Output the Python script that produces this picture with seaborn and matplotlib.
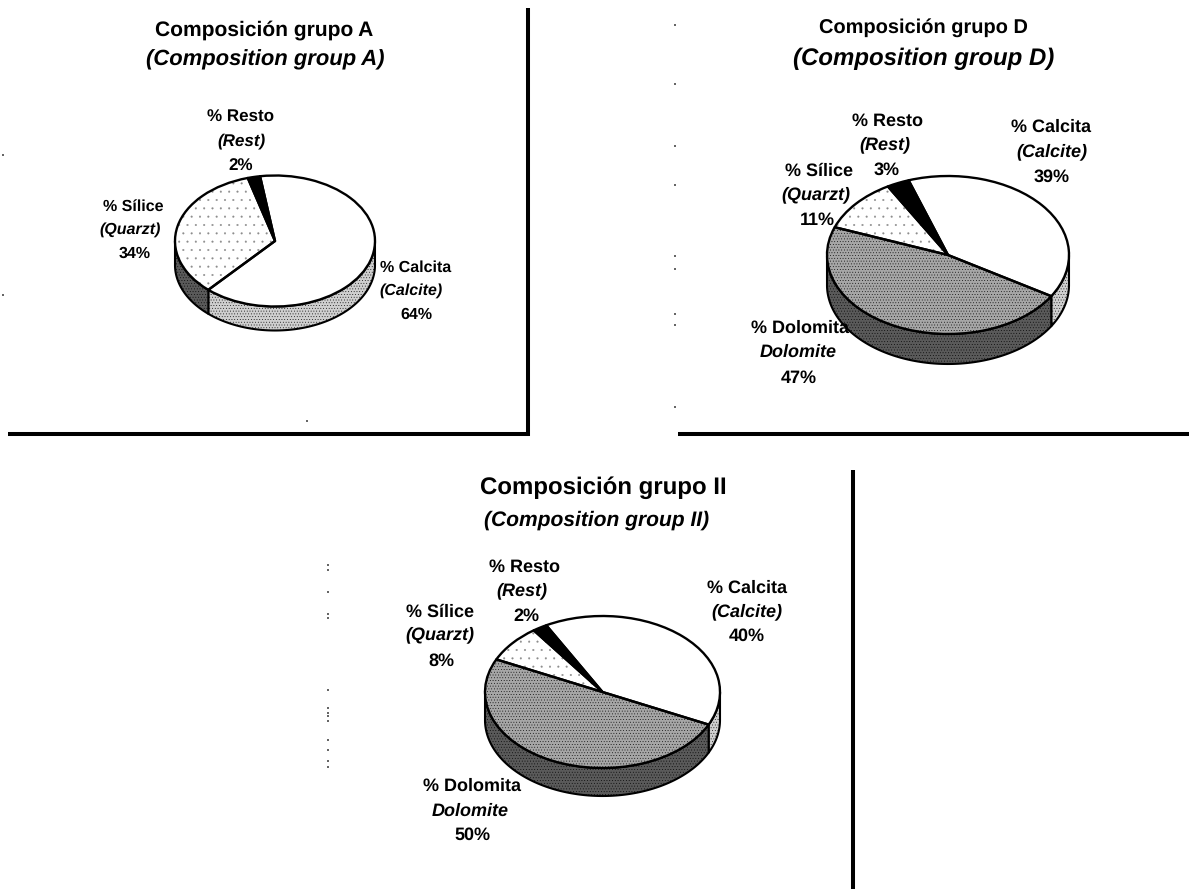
import numpy as np
import matplotlib
matplotlib.use("Agg")
import matplotlib.pyplot as plt
import seaborn as sns

W, H = 1189, 890

# --- data ---
names = ["Calcita", "Dolomita", "Silice", "Resto"]
values_a = [64, 0, 34, 2]
values_d = [39, 47, 11, 3]
values_ii = [40, 50, 8, 2]

titles_a = ["Composición grupo A", "(Composition group A)"]
titles_d = ["Composición grupo D", "(Composition group D)"]
titles_ii = ["Composición grupo II", "(Composition group II)"]

labels_es = ["% Calcita", "% Dolomita", "% Sílice", "% Resto"]
labels_en = ["(Calcite)", "Dolomite", "(Quarzt)", "(Rest)"]

# faint scan specks on the page (pixel positions)
speck_x = [3, 3, 307, 674.5, 674.5, 674.5, 674.5, 674.5, 674.5, 674.5, 674.5, 674.5,
           328, 328, 328, 328, 328, 328, 328, 328, 328, 328, 328, 328, 328, 328]
speck_y = [155, 295, 421, 25, 84, 146, 185, 256, 269, 314, 325, 407,
           565, 570, 592, 614, 618, 690, 708, 713, 716, 721, 740, 750, 761, 767]

# --- styling / layout ---
sns.set_theme(style="white")
plt.rcParams["font.family"] = ["Liberation Sans", "DejaVu Sans"]
plt.rcParams["hatch.linewidth"] = 0.25
plt.rcParams["text.hinting"] = "no_hinting"
plt.rcParams["text.hinting_factor"] = 1

top_face = ["#ffffff", "#a6a6a6", "#ffffff", "#000000"]
top_hatch = [None, "......", "..", None]
top_hatch_color = ["#000000", "#000000", "#8c8c8c", "#000000"]
side_face = ["#cfcfcf", "#5a5a5a", "#5a5a5a", "#000000"]
side_hatch = ["......", "......", "......", None]

fig = plt.figure(figsize=(W / 100, H / 100), dpi=100, facecolor="white")


def draw_pie(values, cx, cy, rx, ry, depth, start):
    """cx, cy: pixel centre of the top face, rx, ry: pixel radii, depth: pixel wall."""
    pad = 4
    ax = fig.add_axes([(cx - rx - pad) / W,
                       1 - (cy + ry + depth + pad) / H,
                       (2 * rx + 2 * pad) / W,
                       (2 * ry + depth + 2 * pad) / H])
    idx = [i for i, v in enumerate(values) if v > 0]
    vals = [values[i] for i in idx]
    d = depth / ry
    # top face: fill and stipple first, outline in a second pass
    fills, _ = ax.pie(vals, colors=[top_face[i] for i in idx], startangle=start,
                      counterclock=False, center=(0, 0), radius=1,
                      hatch=[top_hatch[i] for i in idx],
                      wedgeprops=dict(linewidth=0), frame=True)
    for w, i in zip(fills, idx):
        w.set_edgecolor(top_hatch_color[i])
        w.set_linewidth(0)
        w.set_zorder(5)
    outlines, _ = ax.pie(vals, colors=["none"] * len(vals), startangle=start,
                         counterclock=False, center=(0, 0), radius=1,
                         wedgeprops=dict(linewidth=1.7, edgecolor="black"), frame=True)
    for w in outlines:
        w.set_joinstyle("round")
        w.set_zorder(6)
    # front wall of each slice: the part of its arc on the lower half of the ellipse
    angle = start
    for v, i in zip(vals, idx):
        end = angle - 360 * v / sum(vals)
        th = np.deg2rad(np.linspace(angle, end, 200))
        th = th[np.sin(th) <= 0]
        if len(th) > 1:
            x, y = np.cos(th), np.sin(th)
            order = np.argsort(x)
            ax.fill_between(x[order], y[order], y[order] - d,
                            facecolor=side_face[i], edgecolor="black",
                            hatch=side_hatch[i], linewidth=1.5, zorder=2)
        angle = end
    ax.set_aspect("auto")
    ax.set_xlim(-1 - pad / rx, 1 + pad / rx)
    ax.set_ylim(-1 - d - pad / ry, 1 + pad / ry)
    ax.axis("off")


def label(x, y, s, size=11.5, style="normal"):
    fig.text(x / W, 1 - y / H, s, ha="center", va="center", fontsize=size,
             fontweight="bold", fontstyle=style, color="black")


def block(es, en, pct, ys, xs, size):
    label(xs[0], ys[0], es, size)
    label(xs[1], ys[1], en, size, "italic")
    label(xs[2], ys[2], pct, size)


draw_pie(values_a, 275, 241, 100, 65.5, 24, 98.6)
draw_pie(values_d, 948, 255, 121, 79, 30, 109)
draw_pie(values_ii, 602.5, 692, 117.5, 76, 28, 118.6)

# titles
label(264, 30, titles_a[0], size=15)
label(265, 60, titles_a[1], size=15.8, style="italic")
label(923, 28, titles_d[0], size=14.4)
label(924, 59, titles_d[1], size=17.5, style="italic")
label(603, 488, titles_ii[0], size=17.3)
label(597, 520, titles_ii[1], size=15.4, style="italic")

# group A labels
block(labels_es[3], labels_en[3], f"{values_a[3]}%", (117, 141, 166), (241, 241, 241), 12.4)
block(labels_es[2], labels_en[2], f"{values_a[2]}%", (207, 230, 254), (133, 130, 135), 11.5)
block(labels_es[0], labels_en[0], f"{values_a[0]}%", (268, 291, 315), (416, 411, 416), 11.5)
# group D labels
block(labels_es[3], labels_en[3], f"{values_d[3]}%", (121, 145, 170), (888, 885, 887), 13)
block(labels_es[2], labels_en[2], f"{values_d[2]}%", (171, 195, 220), (819, 816, 817), 13)
block(labels_es[0], labels_en[0], f"{values_d[0]}%", (127, 152, 177), (1051, 1052, 1052), 13)
block(labels_es[1], labels_en[1], f"{values_d[1]}%", (328, 352, 378), (800, 798, 799), 13)
# group II labels
block(labels_es[3], labels_en[3], f"{values_ii[3]}%", (567, 591, 616), (525, 522, 526), 13)
block(labels_es[2], labels_en[2], f"{values_ii[2]}%", (612, 635, 661), (440, 440, 441), 13)
block(labels_es[0], labels_en[0], f"{values_ii[0]}%", (588, 612, 636), (747, 747, 747), 13)
block(labels_es[1], labels_en[1], f"{values_ii[1]}%", (786, 811, 835), (472, 470, 472), 13)


# heavy panel rules
def rule(x0, y0, x1, y1):
    fig.add_artist(plt.Line2D([x0 / W, x1 / W], [1 - y0 / H, 1 - y1 / H],
                              color="black", lw=2.9, solid_capstyle="butt"))


rule(528, 8, 528, 436)
rule(8, 434, 530, 434)
rule(678, 434, 1189, 434)
rule(853, 470, 853, 889)

# specks
overlay = fig.add_axes([0, 0, 1, 1], facecolor="none")
overlay.scatter(speck_x, speck_y, s=2.0, marker="s", color="#666666", linewidths=0)
overlay.set_xlim(0, W)
overlay.set_ylim(H, 0)
overlay.axis("off")

fig.savefig("out.png", dpi=100)
